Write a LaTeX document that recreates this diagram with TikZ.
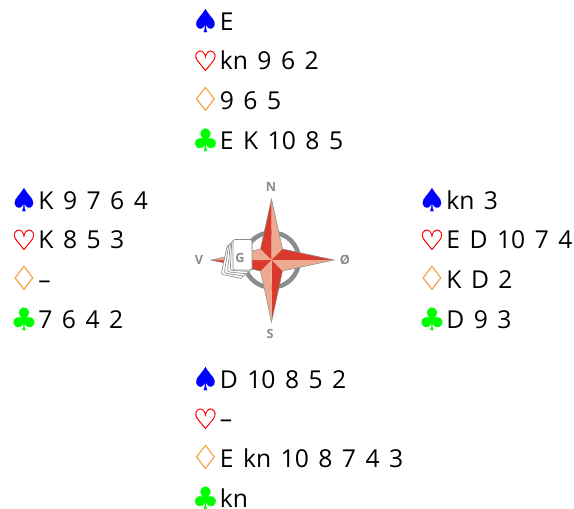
\documentclass[tikz,border=0pt]{standalone}
\usepackage{fontspec}
\setmainfont[WordSpace=1.48]{Open Sans}
\newfontfamily\suitfont[FakeBold=0.6]{DejaVu Sans}
\definecolor{compassred}{HTML}{D93A2B}
\definecolor{compasslight}{HTML}{EEAA90}
\definecolor{compassgray}{HTML}{8A8C8E}
\definecolor{suitorange}{HTML}{F5A040}
\newcommand{\suit}[3]{\makebox[14.5pt][c]{\raisebox{-1.5pt}{\suitfont\fontsize{#3}{#3}\selectfont\textcolor{#1}{\char"#2}}}\hspace{3.6pt}}
\newcommand{\spar}{\suit{blue}{2660}{23.5pt}}
\newcommand{\hjerter}{\suit{red}{2661}{21pt}}
\newcommand{\ruter}{\suit{suitorange}{2662}{25pt}}
\newcommand{\klover}{\suit{green}{2663}{23pt}}
\tikzset{
  hand/.style={anchor=base west,inner sep=0pt,font=\fontsize{18.5pt}{18.5pt}\selectfont},
  wind/.style={text=compassgray,inner sep=0pt,font=\fontsize{9.5pt}{9.5pt}\selectfont\bfseries},
  card/.style={draw=compassgray,fill=white,line width=0.5pt,rounded corners=1.5pt},
}
\begin{document}
\begin{tikzpicture}[x=0.75pt,y=-0.75pt]
    \useasboundingbox (0,0) rectangle (574,508);
    % nord
    \node[hand] (n1) at (195.5,30) {\spar E};
    \node[hand] (n2) at (195.5,69) {\hjerter kn 9 6 2};
    \node[hand] (n3) at (195.5,109) {\ruter 9 6 5};
    \node[hand] (n4) at (195.5,149) {\klover E K 10 8 5};
    % vest
    \node[hand] (v1) at (14,209) {\spar K 9 7 6 4};
    \node[hand] (v2) at (14,248) {\hjerter K 8 5 3};
    \node[hand] (v3) at (14,288) {\ruter --};
    \node[hand] (v4) at (14,328) {\klover 7 6 4 2};
    % oest
    \node[hand] (o1) at (422,209) {\spar kn 3};
    \node[hand] (o2) at (422,248) {\hjerter E D 10 7 4};
    \node[hand] (o3) at (422,288) {\ruter K D 2};
    \node[hand] (o4) at (422,328) {\klover D 9 3};
    % syd
    \node[hand] (s1) at (195.5,388) {\spar D 10 8 5 2};
    \node[hand] (s2) at (195.5,427) {\hjerter --};
    \node[hand] (s3) at (195.5,467) {\ruter E kn 10 8 7 4 3};
    \node[hand] (s4) at (195.5,507) {\klover kn};
    % kompas
    \coordinate (c) at (271.5,260);
    \draw[compassgray,line width=3.4pt] (c) circle [radius=27.5];
    \coordinate (tn) at (271.5,199);
    \coordinate (ts) at (271.5,322);
    \coordinate (to) at (334,260);
    \coordinate (tv) at (211,260);
    \coordinate (ne) at (282.5,249);
    \coordinate (nw) at (260.5,249);
    \coordinate (se) at (282.5,271);
    \coordinate (sw) at (260.5,271);
    \fill[compassred] (c) -- (nw) -- (tn) -- cycle;
    \fill[compasslight] (c) -- (tn) -- (ne) -- cycle;
    \fill[compassred] (c) -- (ne) -- (to) -- cycle;
    \fill[compasslight] (c) -- (to) -- (se) -- cycle;
    \fill[compassred] (c) -- (se) -- (ts) -- cycle;
    \fill[compasslight] (c) -- (ts) -- (sw) -- cycle;
    \fill[compassred] (c) -- (sw) -- (tv) -- cycle;
    \fill[compasslight] (c) -- (tv) -- (nw) -- cycle;
    \draw[compassgray,line width=0.4pt,line join=miter] (tn) -- (ne) -- (to) -- (se) -- (ts) -- (sw) -- (tv) -- (nw) -- cycle;
    % kort
    \draw[card,rotate around={-12:(236,262)}] (224,247) rectangle (245.5,277);
    \draw[card,rotate around={-9:(238,260)}] (226.5,245) rectangle (247.5,275);
    \draw[card,rotate around={-6:(240,258)}] (229,243) rectangle (249.5,273);
    \draw[card,rotate around={-3:(242,256)}] (231,241) rectangle (251.5,271);
    \draw[card] (233,239.5) rectangle (252,270);
    \node[wind] (g) at (240,257.5) {G};
    \node[wind] (nn) at (271,187) {N};
    \node[wind] (ns) at (270,334) {S};
    \node[wind] (nv) at (199,260) {V};
    \node[wind] (nø) at (345,260) {Ø};
\end{tikzpicture}
\end{document}
